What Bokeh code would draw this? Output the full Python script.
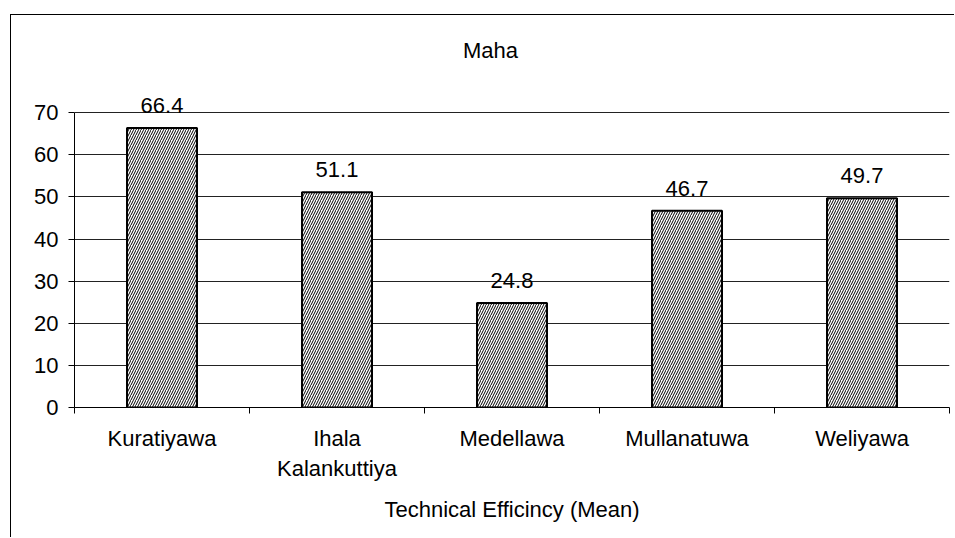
from bokeh.plotting import figure
from bokeh.models import ColumnDataSource, FixedTicker, LinearAxis, Range1d, LabelSet, Label
from bokeh.core.properties import value
from bokeh.embed import file_html
from bokeh.resources import INLINE

# ---- data ----
categories = ["Kuratiyawa", "Ihala\nKalankuttiya", "Medellawa", "Mullanatuwa", "Weliyawa"]
values = [66.4, 51.1, 24.8, 46.7, 49.7]
y_ticks = [0, 10, 20, 30, 40, 50, 60, 70]
title_text = "Maha"
x_title = "Technical Efficincy (Mean)"

FONT = "Liberation Sans"
FS = "22px"

n = len(categories)
centers = [i + 0.5 for i in range(n)]
bounds = list(range(n + 1))
src = ColumnDataSource(dict(x=centers, top=values, label=[f"{v:.1f}" for v in values]))

p = figure(width=944, height=523, x_range=Range1d(0, n), y_range=Range1d(0, 90),
           output_backend="svg", toolbar_location=None, x_axis_type=None,
           min_border_left=63, min_border_right=6, min_border_top=13, min_border_bottom=131)
p.margin = (14, 0, 0, 10)
p.styles = {"border-left": "1px solid #000", "border-top": "1px solid #000"}
p.outline_line_color = None
p.background_fill_color = "white"
p.border_fill_color = "white"

# bars
p.vbar(x="x", top="top", width=0.4, bottom=0, source=src,
       fill_color="white", line_color="black", line_width=2,
       hatch_pattern="/", hatch_color="black", hatch_scale=5, hatch_weight=1)

# value labels
labels = LabelSet(x="x", y="top", text="label", source=src, text_align="center",
                  text_baseline="alphabetic", y_offset=15,
                  text_font=value(FONT), text_font_size=value(FS), text_color="black")
p.add_layout(labels)

# y axis
ya = p.yaxis[0]
ya.ticker = FixedTicker(ticks=y_ticks, minor_ticks=[])
ya.bounds = (y_ticks[0], y_ticks[-1])
ya.major_tick_out = 6
ya.major_tick_in = 0
ya.minor_tick_out = 0
ya.minor_tick_in = 0
ya.axis_line_color = "black"
ya.major_tick_line_color = "black"
ya.major_label_standoff = 10
ya.major_label_text_font = FONT
ya.major_label_text_font_size = FS
ya.major_label_text_color = "black"

p.ygrid.ticker = FixedTicker(ticks=y_ticks)
p.ygrid.grid_line_color = "#222222"
p.ygrid.grid_line_width = 1
p.xgrid.visible = False

# x axis: labels at centres, ticks at category boundaries
xa = LinearAxis(ticker=FixedTicker(ticks=centers, minor_ticks=bounds),
                major_label_overrides={c: lab for c, lab in zip(centers, categories)})
xa.major_tick_out = 6
xa.major_tick_in = 0
xa.major_tick_line_color = None
xa.minor_tick_out = 6
xa.minor_tick_in = 0
xa.minor_tick_line_color = "black"
xa.axis_line_color = "black"
xa.major_label_standoff = 12
xa.major_label_text_font = FONT
xa.major_label_text_font_size = FS
xa.major_label_text_color = "black"
xa.axis_label = x_title
xa.axis_label_text_font = FONT
xa.axis_label_text_font_size = FS
xa.axis_label_text_font_style = "normal"
xa.axis_label_text_color = "black"
xa.axis_label_standoff = 13
p.add_layout(xa, "below")

# chart title (placed inside the extended frame above the 70 gridline)
TITLE_X, TITLE_Y = 2.377, 84.7
p.add_layout(Label(x=TITLE_X, y=TITLE_Y, text=title_text, text_align="center",
                   text_baseline="alphabetic", text_font=FONT, text_font_size=FS,
                   text_color="black"))

open("out.html", "w").write(file_html(p, INLINE))
